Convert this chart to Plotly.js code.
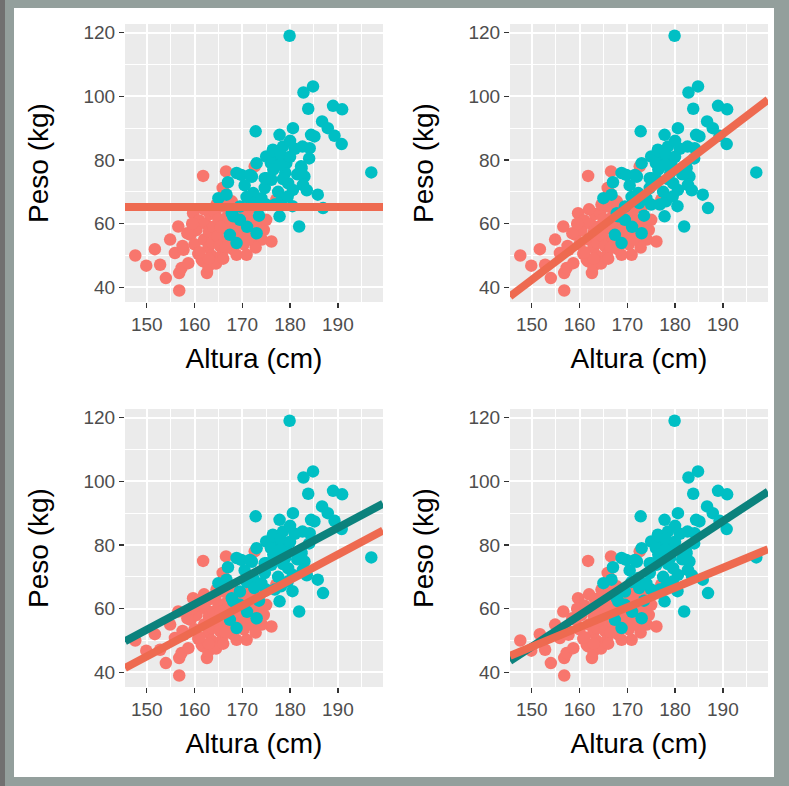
<!DOCTYPE html>
<html>
<head>
<meta charset="utf-8">
<script src="https://cdn.plot.ly/plotly-3.0.1.min.js"></script>
<style>
  html, body { margin:0; padding:0; }
  body { width:789px; height:786px; background:#939f9c; position:relative; overflow:hidden; }
  #leftstrip { position:absolute; left:0; top:0; width:5px; height:786px; background:#707070; }
  #frame { position:absolute; left:14px; top:8px; width:760px; height:769px; background:#ffffff; }
  #plot { position:absolute; left:0; top:0; width:789px; height:786px; }
</style>
</head>
<body>
<div id="leftstrip"></div>
<div id="frame"></div>
<div id="plot"></div>
<script>
// Female (coral) points: altura (cm), peso (kg)
const femaleAltura = [147.6,149.9,151.7,152.8,154.0,154.9,155.9,156.6,156.8,156.8,
  157.3,157.7,158.7,159.2,159.7,160.0,160.4,160.8,161.0,161.5,
  161.8,161.8,162.0,162.3,162.6,162.9,162.9,163.0,163.2,163.5,
  163.7,164.0,164.3,164.5,164.8,165.0,165.3,165.3,165.7,165.9,
  166.0,166.2,166.6,166.8,167.0,167.4,167.5,168.0,168.3,168.8,
  168.8,169.0,169.5,170.0,170.3,170.9,171.0,171.5,172.0,172.6,
  173.0,173.7,173.7,174.5,175.0,176.1,177.1,174.1,168.5,170.2,
  171.8,172.8,169.6,167.2,166.5,158.5,170.8,172.2,163.0,166.4,
  157.5,159.5,162.0,165.5,167.8,169.3,171.2,164.6,161.0,166.0];
const femalePeso = [50.0,46.8,52.0,47.1,42.9,55.0,50.8,59.1,44.5,39.0,
  46.1,51.8,47.6,56.5,63.3,53.5,58.0,50.5,61.0,48.7,
  75.0,48.2,55.0,60.0,44.5,46.6,52.5,57.5,63.0,50.0,
  54.0,59.0,63.3,47.5,56.0,61.5,67.0,53.0,50.2,71.2,
  65.4,58.5,76.4,62.0,55.0,57.5,60.0,52.0,64.0,58.6,
  50.2,62.5,56.0,60.0,53.5,50.2,63.5,57.5,61.0,78.0,
  65.0,60.2,55.5,58.0,61.2,54.4,67.5,55.0,54.0,57.5,
  55.0,52.5,59.5,61.0,52.5,57.0,65.5,58.5,49.0,69.4,
  53.0,60.0,64.5,59.0,67.0,59.0,55.0,66.0,51.0,49.0];

// Male (cyan) points
const maleAltura = [179.9,184.8,182.8,183.8,189.0,190.9,172.8,180.6,177.8,186.7,
  187.9,189.3,190.8,184.4,185.1,182.6,184.1,197.0,175.0,176.4,
  178.5,177.1,179.2,182.3,183.0,182.7,185.8,186.9,181.9,177.8,
  178.1,179.6,180.6,176.1,174.7,172.3,173.0,171.9,168.8,169.8,
  170.9,166.7,165.0,169.5,168.1,169.5,168.8,167.4,173.0,175.0,
  176.8,182.4,175.1,172.0,171.6,174.7,167.8,178.0,180.0,181.0,
  176.0,179.0,181.5,177.5,179.5,174.0,176.5,178.5,180.5,183.5,
  170.5,172.5,167.0,171.0,173.5,184.0,178.0,180.0];
const malePeso = [119.0,103.1,101.2,96.1,97.0,95.9,89.0,90.0,87.9,92.1,
  90.0,87.6,85.0,87.9,87.4,84.2,83.7,76.1,81.1,83.2,
  84.2,80.1,79.0,78.0,74.8,72.2,69.1,64.9,59.1,62.3,
  67.0,72.7,70.6,73.8,71.2,69.6,79.0,74.8,75.9,75.3,
  68.4,69.1,68.0,65.4,62.3,61.2,53.9,56.5,57.0,66.0,
  66.0,77.4,74.3,74.8,75.3,74.3,63.3,82.0,81.0,83.5,
  79.0,76.0,75.5,70.0,68.5,68.0,77.0,74.0,65.5,70.5,
  72.0,66.5,73.0,59.0,62.5,80.5,78.5,86.0];

// Fitted lines: [intercept, slope]
const line1 = [65.2, 0];               // panel 1: mean only
const line2 = [-129.25, 1.144];        // panel 2: common slope
const line3Male = [-66.6, 0.80];       // panel 3: parallel lines
const line3Female = [-75.0, 0.80];
const line4Male = [-99.7, 0.985];      // panel 4: separate slopes
const line4Female = [-45.0, 0.62];

const xRange = [145.45, 199.45];
const yRange = [35.4, 122.7];

const coral = '#F8766D', cyan = '#00BFC4';
const lineCoral = '#EE6A50', lineTeal = '#0B827D';

function pts(n) {
  const xa = n === 1 ? 'x' : 'x' + n, ya = n === 1 ? 'y' : 'y' + n;
  return [
    {x: femaleAltura, y: femalePeso, xaxis: xa, yaxis: ya, type: 'scatter', mode: 'markers',
     marker: {color: coral, size: 12.5}, hoverinfo: 'skip'},
    {x: maleAltura, y: malePeso, xaxis: xa, yaxis: ya, type: 'scatter', mode: 'markers',
     marker: {color: cyan, size: 12.5}, hoverinfo: 'skip'}
  ];
}
function ln(n, coef, color) {
  const xa = n === 1 ? 'x' : 'x' + n, ya = n === 1 ? 'y' : 'y' + n;
  return {x: xRange, y: xRange.map(v => coef[0] + coef[1] * v), xaxis: xa, yaxis: ya,
    type: 'scatter', mode: 'lines', line: {color: color, width: 8}, hoverinfo: 'skip'};
}

const data = [
  ...pts(1), ln(1, line1, lineCoral),
  ...pts(2), ln(2, line2, lineCoral),
  ...pts(3), ln(3, line3Male, lineTeal), ln(3, line3Female, lineCoral),
  ...pts(4), ln(4, line4Male, lineTeal), ln(4, line4Female, lineCoral)
];

const W = 789, H = 786;
const colX = [[125 / W, 383 / W], [510 / W, 768 / W]];
const rowY = [[1 - 302 / H, 1 - 24 / H], [1 - 687 / H, 1 - 409 / H]];
const font = 'Liberation Sans, Arial, sans-serif';

function xax(dom, anchor) {
  return {domain: dom, anchor: anchor, range: xRange, tickvals: [150,160,170,180,190],
    showgrid: true, gridcolor: '#ffffff', gridwidth: 2,
    minor: {tickvals: [145,155,165,175,185,195], showgrid: true, gridcolor: '#ffffff', gridwidth: 1, ticks: ''},
    ticks: 'outside', ticklen: 5, tickwidth: 1.5, tickcolor: '#333333',
    tickfont: {size: 19, color: '#4D4D4D', family: font},
    zeroline: false, showline: false, automargin: false,
    title: {text: 'Altura (cm)', font: {size: 28, color: '#000000', family: font}, standoff: 14}};
}
function yax(dom, anchor) {
  return {domain: dom, anchor: anchor, range: yRange, tickvals: [40,60,80,100,120],
    showgrid: true, gridcolor: '#ffffff', gridwidth: 2,
    minor: {tickvals: [50,70,90,110], showgrid: true, gridcolor: '#ffffff', gridwidth: 1, ticks: ''},
    ticks: 'outside', ticklen: 5, tickwidth: 1.5, tickcolor: '#333333',
    tickfont: {size: 19, color: '#4D4D4D', family: font},
    zeroline: false, showline: false, automargin: false,
    title: {text: 'Peso (kg)', font: {size: 28, color: '#000000', family: font}, standoff: 26}};
}

const layout = {
  width: W, height: H, margin: {l: 0, r: 0, t: 0, b: 0},
  paper_bgcolor: 'rgba(0,0,0,0)', plot_bgcolor: '#EBEBEB',
  showlegend: false, font: {family: font},
  xaxis: xax(colX[0], 'y'), yaxis: yax(rowY[0], 'x'),
  xaxis2: xax(colX[1], 'y2'), yaxis2: yax(rowY[0], 'x2'),
  xaxis3: xax(colX[0], 'y3'), yaxis3: yax(rowY[1], 'x3'),
  xaxis4: xax(colX[1], 'y4'), yaxis4: yax(rowY[1], 'x4')
};

Plotly.newPlot('plot', data, layout, {staticPlot: true, displayModeBar: false});
</script>
</body>
</html>
